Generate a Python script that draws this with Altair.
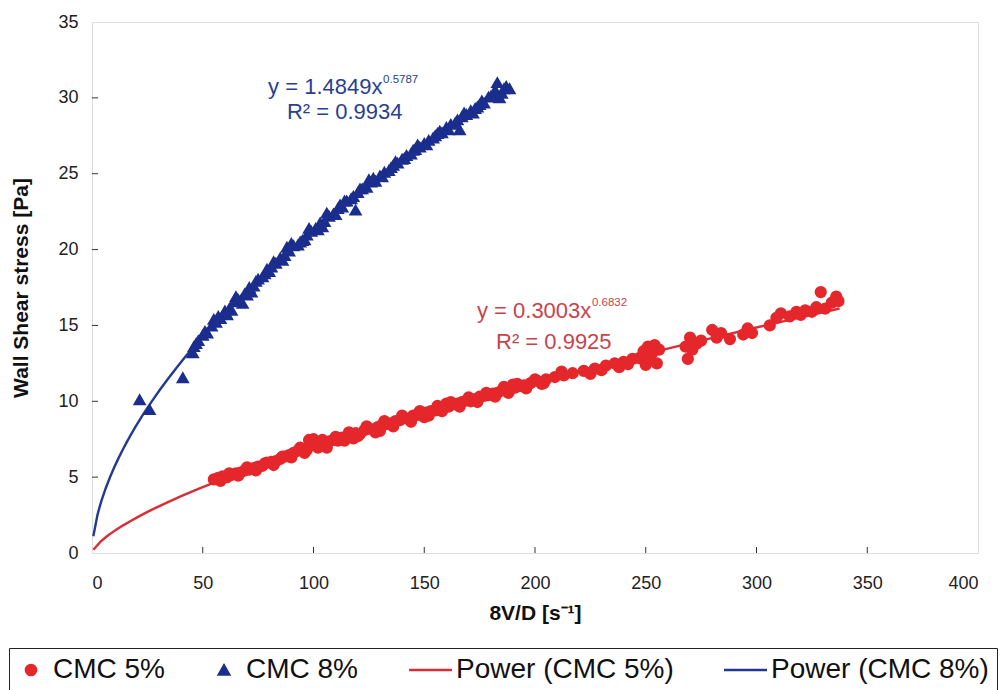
import altair as alt
import pandas as pd

FONT = "Liberation Sans"

# CMC 5% measured points (8V/D [1/s], wall shear stress [Pa])
red_x = [55, 57, 59, 61, 63, 65, 67, 69, 71, 73, 75, 77, 79, 81, 83, 85, 87, 89, 91, 93,
         95, 97, 98, 99, 101, 102, 103, 105, 107, 109, 111, 113, 115, 117, 118, 119, 121, 123,
         125, 127, 129, 130, 131, 133, 135, 137, 139, 141, 143, 145, 147, 149, 150, 151, 153,
         155, 157, 159, 160, 161, 163, 165, 167, 169, 171, 173, 175, 177, 179, 181, 183, 185,
         187, 189, 190, 191, 193, 195, 198, 201, 203, 205, 209, 212, 213, 217, 222, 225, 227,
         230, 232, 236, 238, 240, 242, 244, 247, 249, 250, 251, 252, 253, 254, 255, 256, 268,
         269, 270, 271, 273, 275, 280, 282, 284, 288, 294, 296, 298, 306, 309, 311, 315, 318,
         320, 322, 325, 327, 329, 331, 334, 336, 337,
         58, 62, 66, 70, 74, 78, 82, 86, 90, 94, 96, 100, 104, 106, 110, 114, 116, 120, 124,
         128, 132, 136, 140, 144, 148, 152, 156, 158, 162, 166, 170, 174, 178, 182, 186, 188,
         192, 196, 200, 204]
red_y = [4.85, 4.95, 5.05, 5.00, 5.15, 5.25, 5.30, 5.45, 5.50, 5.60, 5.70, 5.75, 5.95, 6.00,
         6.05, 6.20, 6.35, 6.45, 6.60, 6.75, 6.85, 6.80, 7.45, 7.15, 7.30, 6.95, 7.20, 7.10,
         7.35, 7.45, 7.40, 7.60, 7.65, 7.80, 7.55, 7.90, 7.85, 8.10, 8.20, 8.15, 8.30, 8.05,
         8.45, 8.50, 8.55, 8.70, 8.75, 8.90, 8.85, 9.05, 9.10, 9.20, 8.95, 9.25, 9.35, 9.40,
         9.55, 9.60, 9.85, 9.65, 9.80, 9.85, 9.95, 10.05, 10.00, 10.15, 10.30, 10.35, 10.40,
         10.50, 10.55, 10.70, 10.75, 10.80, 11.10, 10.90, 11.00, 11.05, 11.20, 11.35, 11.15,
         11.45, 11.60, 11.95, 11.70, 11.85, 12.00, 11.80, 12.15, 12.05, 12.35, 12.50, 12.25,
         12.60, 12.45, 12.80, 12.85, 13.30, 12.40, 13.60, 12.90, 13.20, 13.70, 12.50, 13.40,
         13.60, 12.80, 14.20, 13.40, 13.80, 14.00, 14.70, 14.20, 14.50, 14.10, 14.40, 14.80,
         14.50, 15.00, 15.50, 15.80, 15.60, 15.90, 15.70, 16.00, 15.90, 16.20, 17.20, 16.10,
         16.50, 16.90, 16.60,
         4.75, 5.25, 5.10, 5.65, 5.45, 5.90, 5.80, 6.35, 6.30, 6.95, 6.60, 7.50, 7.45, 6.95,
         7.65, 7.40, 7.95, 7.70, 8.35, 7.95, 8.70, 8.35, 9.05, 8.65, 9.35, 9.05, 9.70, 9.35,
         9.95, 9.65, 10.25, 9.95, 10.55, 10.30, 10.95, 10.55, 11.15, 10.85, 11.45, 11.20]

# CMC 8% measured points
blue_x = [21.5, 26, 41, 45.5, 46, 48, 50, 52, 54, 55, 56, 58, 60, 62, 63, 64, 66, 68, 69, 71,
          72, 73, 75, 77, 79, 80, 81, 83, 85, 87, 88, 89, 91, 93, 95, 96, 97, 99, 101, 103,
          104, 105, 107, 109, 111, 112, 113, 115, 117, 119, 120, 122, 124, 125, 126, 128, 130,
          132, 134, 135, 136, 138, 140, 142, 144, 145, 146, 148, 150, 152, 154, 155, 156, 158,
          160, 162, 164, 165, 166, 167, 169, 171, 173, 174, 175, 177, 179, 181, 182, 183, 184,
          185, 187, 188.5,
          47, 51, 57, 61, 65, 70, 74, 78, 82, 86, 90, 94, 98, 102, 106, 110, 114, 118, 121,
          127, 131, 137, 141, 147, 151, 157, 161, 168, 172, 176, 180, 186]
blue_y = [10.10, 9.45, 11.55, 13.20, 13.60, 14.00, 14.35, 14.50, 14.95, 15.40, 15.20, 15.45,
          15.95, 16.10, 16.00, 16.55, 16.70, 16.45, 17.10, 17.50, 17.20, 17.60, 18.05, 18.20,
          18.70, 18.55, 18.85, 19.10, 19.45, 19.60, 20.15, 19.90, 20.25, 20.30, 20.60, 20.65,
          20.95, 21.20, 21.40, 21.75, 21.50, 21.85, 22.20, 22.35, 22.70, 22.95, 22.80, 23.20,
          23.35, 22.60, 23.75, 24.00, 24.10, 24.60, 24.45, 24.50, 24.85, 25.10, 25.20, 25.40,
          25.55, 25.70, 25.95, 26.20, 26.30, 26.55, 26.60, 26.75, 27.00, 27.20, 27.35, 27.50,
          27.65, 27.70, 28.05, 28.25, 28.35, 28.55, 27.90, 28.75, 28.90, 29.15, 29.30, 29.40,
          29.55, 29.65, 30.05, 30.15, 30.50, 31.00, 30.00, 30.30, 30.75, 30.60,
          13.80, 14.60, 15.60, 15.70, 16.90, 17.00, 17.90, 18.40, 19.20, 19.30, 20.40, 20.50,
          21.40, 21.30, 22.40, 22.30, 23.20, 23.50, 24.00, 24.70, 24.80, 25.80, 26.00, 26.90,
          26.90, 27.80, 27.90, 29.00, 29.00, 29.80, 30.10, 30.60]

series_names = ["CMC 5%", "CMC 8%", "Power (CMC 5%)", "Power (CMC 8%)"]
series_colors = ["#e5272b", "#1b2e8e", "#d92e37", "#22398f"]
series_shapes = ["circle", "triangle-up", "M-5,0H3.6", "M-5,0H3.6"]

x_ticks = [0, 50, 100, 150, 200, 250, 300, 350, 400]
y_ticks = [0, 5, 10, 15, 20, 25, 30, 35]

# trendline labels
ann_text = ["y = 1.4849x", "R² = 0.9934", "y = 0.3003x", "R² = 0.9925"]
ann_x = [79.5, 88.0, 173.8, 182.4]
ann_y = [30.7, 29.05, 15.95, 13.9]
ann_col = ["#2a3f8f", "#2a3f8f", "#c9434c", "#c9434c"]
sup_text = ["0.5787", "0.6832"]
sup_x = [131.4, 225.7]
sup_y = [31.2, 16.5]
sup_col = ["#2a3f8f", "#c9434c"]

pts = pd.DataFrame({
    "x": red_x + blue_x,
    "y": red_y + blue_y,
    "series": ["CMC 5%"] * len(red_x) + ["CMC 8%"] * len(blue_x),
})
ann = pd.DataFrame({"x": ann_x, "y": ann_y, "text": ann_text, "col": ann_col})
sup = pd.DataFrame({"x": sup_x, "y": sup_y, "text": sup_text, "col": sup_col})
xt = pd.DataFrame({"v": x_ticks[1:-1]})
yt = pd.DataFrame({"v": y_ticks[1:-1]})

legend = alt.Legend(
    title=None, orient="none", legendX=-83, legendY=626, direction="horizontal",
    columns=4, symbolSize=100, symbolStrokeWidth=2.6, labelFont=FONT, labelFontSize=28,
    labelColor="#111111", labelOffset=8, labelLimit=0, strokeColor="#222222",
    fillColor="white", padding=8, columnPadding=44, symbolOpacity=1,
)
fill_s = alt.Scale(domain=series_names, range=series_colors)
shape_s = alt.Scale(domain=series_names, range=series_shapes)

xscale = alt.Scale(domain=[0, 400], nice=False)
yscale = alt.Scale(domain=[0, 35], nice=False)

xenc = alt.X("x:Q", scale=xscale,
             axis=alt.Axis(values=x_ticks, title="8V/D [s⁻¹]", grid=False, domain=False,
                           ticks=False, labelPadding=21, titlePadding=10, labelFontSize=18,
                           titleFontSize=21, titleFontWeight="bold", labelFont=FONT,
                           titleFont=FONT, labelColor="#222222", titleColor="#111111"))
yenc = alt.Y("y:Q", scale=yscale,
             axis=alt.Axis(values=y_ticks, title="Wall Shear stress [Pa]", grid=False,
                           domain=False, ticks=False, labelPadding=14, titlePadding=26,
                           labelFontSize=18, titleFontSize=21, titleFontWeight="bold",
                           labelFont=FONT, titleFont=FONT, labelColor="#222222",
                           titleColor="#111111"))

points = alt.Chart(pts).mark_point(filled=True, size=105, opacity=1).encode(
    x=xenc, y=yenc,
    fill=alt.Fill("series:N", scale=fill_s, legend=legend),
    stroke=alt.Stroke("series:N", scale=fill_s, legend=legend),
    shape=alt.Shape("series:N", scale=shape_s, legend=legend),
)

def fit_layer(name, lo, hi):
    return alt.Chart(pts).transform_filter(
        alt.datum.series == name
    ).transform_regression(
        "x", "y", method="pow", extent=[lo, hi]
    ).transform_calculate(
        series="'Power (" + name + ")'"
    ).mark_line(strokeWidth=2.4).encode(
        x="x:Q", y="y:Q",
        stroke=alt.Stroke("series:N", scale=fill_s, legend=legend),
    )

fit5 = fit_layer("CMC 5%", 0.6, 337.5)
fit8 = fit_layer("CMC 8%", 0.6, 188.5)

# small inward tick marks on the frame
xticks_l = alt.Chart(xt).mark_rule(color="#333333", strokeWidth=1).encode(
    x=alt.X("v:Q", scale=xscale), y=alt.value(531), y2=alt.value(525))
yticks_l = alt.Chart(yt).mark_rule(color="#333333", strokeWidth=1).encode(
    y=alt.Y("v:Q", scale=yscale), x=alt.value(0), x2=alt.value(6))

labels = alt.Chart(ann).mark_text(align="left", baseline="middle", font=FONT, fontSize=22).encode(
    x="x:Q", y="y:Q", text="text:N", color=alt.Color("col:N", scale=None),
)
sups = alt.Chart(sup).mark_text(align="left", baseline="middle", font=FONT, fontSize=11.5).encode(
    x="x:Q", y="y:Q", text="text:N", color=alt.Color("col:N", scale=None),
)

chart = alt.layer(xticks_l, yticks_l, fit5, fit8, points, labels, sups).properties(
    width=886, height=531,
    padding={"left": 92, "top": 22, "right": 23, "bottom": 137},
    autosize=alt.AutoSizeParams(type="none"),
).configure_view(stroke="#222222", strokeWidth=1.5).configure(background="white")

chart.save("out.html", embed_options={"renderer": "svg", "actions": False})
